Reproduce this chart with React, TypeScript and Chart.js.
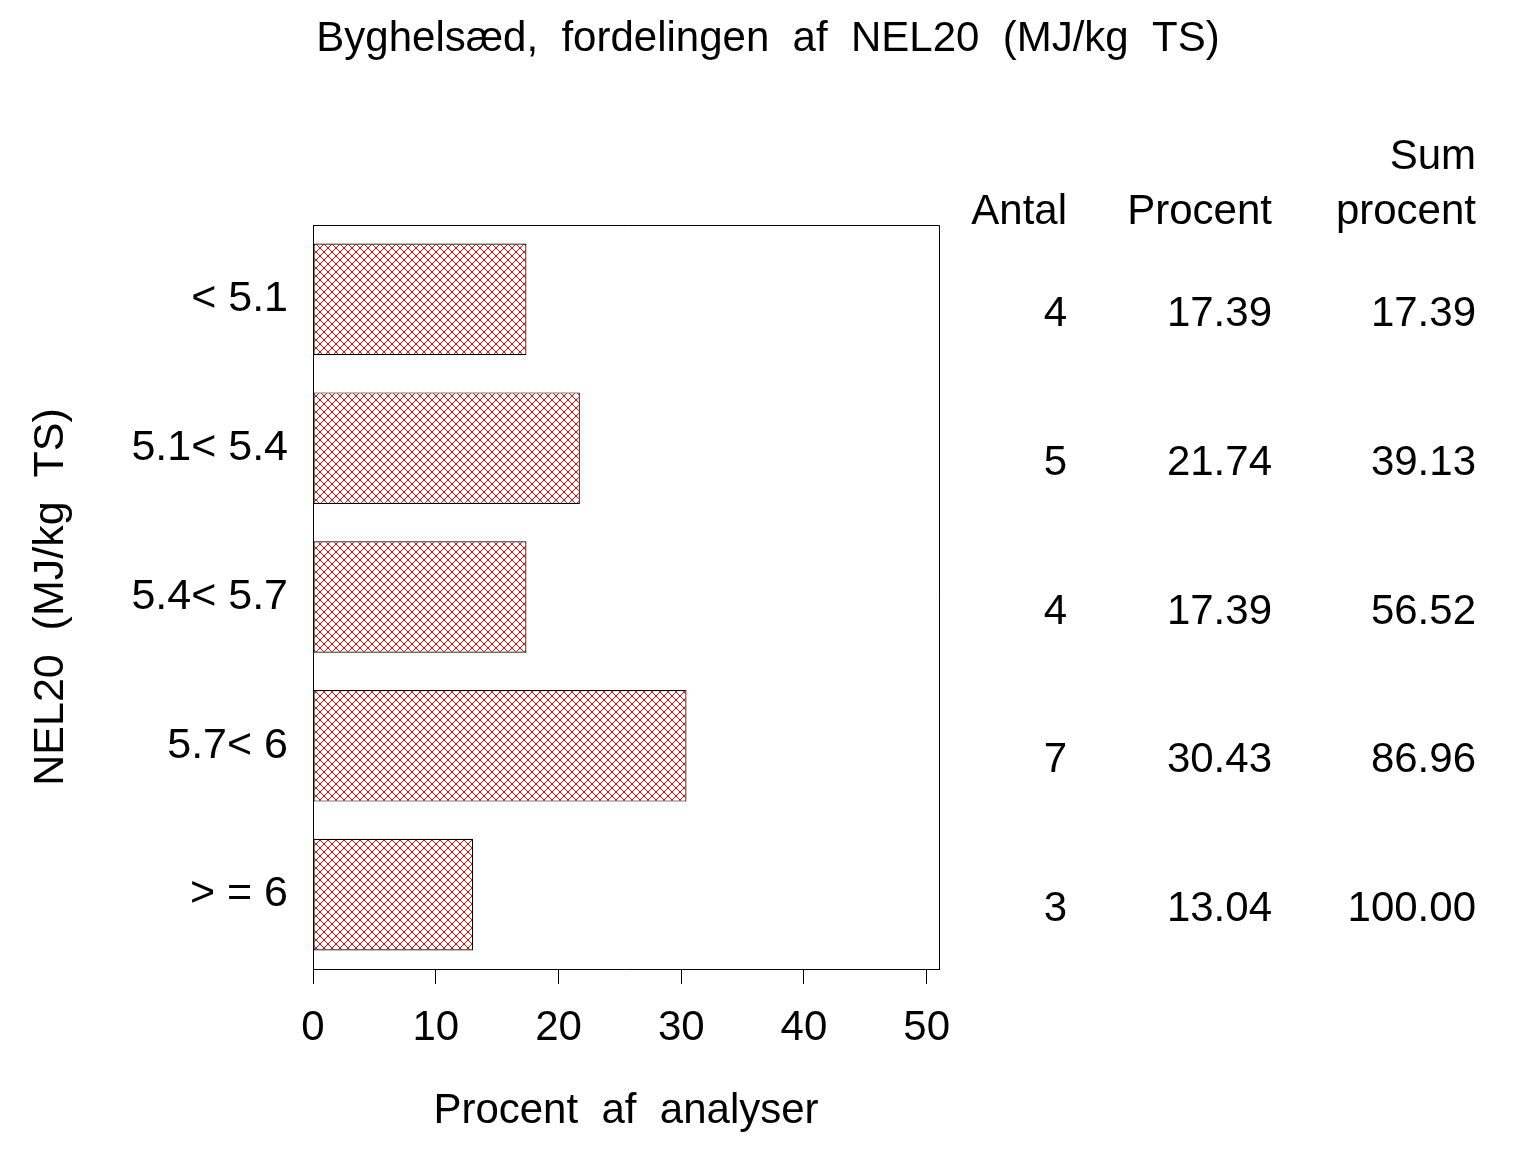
import React, { useEffect, useRef } from "react";
import { Chart, registerables } from "chart.js";

Chart.register(...registerables);

const chartTitle = "Byghelsæd,  fordelingen  af  NEL20  (MJ/kg  TS)";
const categories = ["< 5.1", "5.1< 5.4", "5.4< 5.7", "5.7< 6", "> = 6"];
const counts = [4, 5, 4, 7, 3];
const percents = [17.39, 21.74, 17.39, 30.43, 13.04];
const cumPercents = [17.39, 39.13, 56.52, 86.96, 100.0];
const xTicks = [0, 10, 20, 30, 40, 50];
const xTitle = "Procent  af  analyser";
const yTitle = "NEL20  (MJ/kg  TS)";

const FONT = "'Liberation Sans', Arial, sans-serif";

function makeHatch(): CanvasPattern | string {
  const c = document.createElement("canvas");
  const p = 8;
  c.width = p;
  c.height = p;
  const g = c.getContext("2d");
  if (!g) return "#ff0000";
  g.fillStyle = "#ffffff";
  g.fillRect(0, 0, p, p);
  g.fillStyle = "#ff0000";
  for (let i = 0; i < p; i++) {
    g.fillRect(i, i, 1, 1);
    g.fillRect(p - 1 - i, i, 1, 1);
  }
  const pat = g.createPattern(c, "repeat");
  return pat || "#ff0000";
}

const framePlugin = {
  id: "frameAndTable",
  afterDraw(chart: any) {
    const { ctx, chartArea } = chart;
    const ys = chart.scales.y;
    ctx.save();
    // frame top & right
    ctx.strokeStyle = "#000";
    ctx.lineWidth = 1;
    ctx.beginPath();
    ctx.moveTo(chartArea.left, chartArea.top + 0.5);
    ctx.lineTo(chartArea.right + 0.5, chartArea.top + 0.5);
    ctx.lineTo(chartArea.right + 0.5, chartArea.bottom);
    ctx.stroke();

    // title
    ctx.fillStyle = "#000";
    ctx.font = `42px ${FONT}`;
    ctx.textAlign = "center";
    ctx.textBaseline = "middle";
    ctx.fillText(chartTitle, chart.width / 2, 39);

    // table
    ctx.font = `42px ${FONT}`;
    ctx.textAlign = "right";
    const colX = [1067, 1272, 1476];
    const headY = chartArea.top - 13;
    ctx.fillText("Antal", colX[0], headY);
    ctx.fillText("Procent", colX[1], headY);
    ctx.fillText("Sum", colX[2], headY - 55);
    ctx.fillText("procent", colX[2], headY);
    for (let i = 0; i < categories.length; i++) {
      const y = ys.getPixelForValue(i) + 15;
      ctx.fillText(String(counts[i]), colX[0], y);
      ctx.fillText(percents[i].toFixed(2), colX[1], y);
      ctx.fillText(cumPercents[i].toFixed(2), colX[2], y);
    }
    ctx.restore();
  },
};

export default function App() {
  const ref = useRef<HTMLCanvasElement | null>(null);
  useEffect(() => {
    const canvas = ref.current;
    if (!canvas) return;
    const hatch = makeHatch();
    const chart = new Chart(canvas, {
      type: "bar",
      data: {
        labels: categories,
        datasets: [
          {
            data: percents,
            backgroundColor: hatch as any,
            borderColor: "#000",
            borderWidth: 1.2,
            borderSkipped: false,
            categoryPercentage: 0.75,
            barPercentage: 1.0,
          },
        ],
      },
      options: {
        indexAxis: "y",
        responsive: false,
        animation: false,
        devicePixelRatio: 1,
        layout: { padding: { top: 225, right: 597, left: 0, bottom: 0 } },
        plugins: {
          legend: { display: false },
          tooltip: { enabled: false },
          title: { display: false },
        },
        scales: {
          x: {
            type: "linear",
            min: 0,
            max: 51,
            afterBuildTicks: (s: any) => {
              s.ticks = xTicks.map((v) => ({ value: v }));
            },
            afterFit: (s: any) => {
              s.height = 183;
            },
            grid: {
              display: true,
              drawOnChartArea: false,
              drawTicks: true,
              tickLength: 15,
              color: "#000",
              lineWidth: 1,
            },
            border: { display: true, color: "#000", width: 1 },
            ticks: {
              color: "#000",
              font: { family: FONT, size: 42 },
              padding: 19,
              maxRotation: 0,
              autoSkip: false,
            },
            title: {
              display: true,
              text: xTitle,
              color: "#000",
              font: { family: FONT, size: 42 },
              padding: { top: 0, bottom: 15 },
            },
          },
          y: {
            type: "category",
            afterFit: (s: any) => {
              s.width = 313;
            },
            grid: { display: false, drawTicks: false },
            border: { display: true, color: "#000", width: 1 },
            ticks: {
              color: "#000",
              font: { family: FONT, size: 43 },
              padding: 25,
              autoSkip: false,
            },
            title: {
              display: true,
              text: yTitle,
              color: "#000",
              font: { family: FONT, size: 43 },
              padding: { top: 25, bottom: 0 },
            },
          },
        },
      },
      plugins: [framePlugin],
    });
    return () => chart.destroy();
  }, []);
  return (
    <div style={{ position: "fixed", left: 0, top: 0, width: 1536, height: 1152, background: "#fff" }}>
      <canvas ref={ref} width={1536} height={1152} style={{ width: 1536, height: 1152, display: "block" }} />
    </div>
  );
}
